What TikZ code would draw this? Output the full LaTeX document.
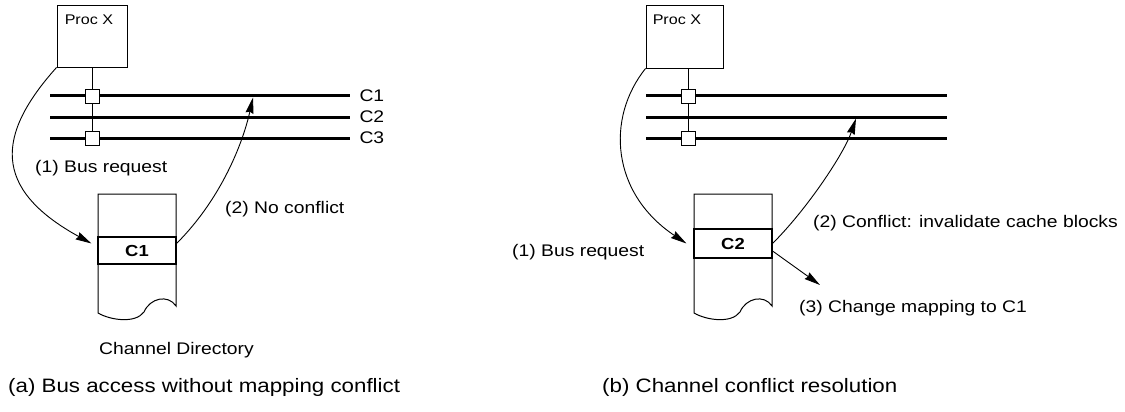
\documentclass[tikz,border=0pt]{standalone}
\usepackage{fontspec}
\setmainfont{Liberation Sans}[FakeStretch=1.15]
\usetikzlibrary{arrows.meta}
\tikzset{
	bus/.style={line width=3pt},
	tap/.style={draw, fill=white, minimum size=14pt, inner sep=0pt, line width=0.9pt},
	procbox/.style={draw, line width=0.9pt, inner sep=0pt},
	dircell/.style={draw, line width=1.1pt, minimum width=78pt, inner sep=0pt, font=\bfseries\fontsize{16}{18}\selectfont},
	req/.style={-{Stealth[length=16pt,width=8pt,inset=1.5pt]}, line width=0.9pt},
	lbl/.style={anchor=west, inner sep=0pt, font=\fontsize{16.8}{19}\selectfont},
	caption/.style={anchor=west, inner sep=0pt, font=\fontsize{19.4}{22}\selectfont},
	proclabel/.style={anchor=north west, inner sep=0pt, xshift=8pt, yshift=-10pt, font=\fontsize{14}{16}\selectfont}
}
\begin{document}
\begin{tikzpicture}[x=1pt, y=-1pt]
	\useasboundingbox (0,0) rectangle (1125,412);

	% (a) no mapping conflict
	\node[procbox, minimum width=70pt, minimum height=62pt, label={[proclabel]north west:Proc X}] at (92,36) (procA) {};
	\draw[bus] (50,96) -- (350,96) node[lbl, xshift=8pt] (busA1) {C1};
	\draw[bus] (50,117) -- (350,117) node[lbl, xshift=8pt] (busA2) {C2};
	\draw[bus] (50,138) -- (350,138) node[lbl, xshift=8pt] (busA3) {C3};
	\node[tap] at (92,96) (tapA1) {};
	\node[tap] at (92,138) (tapA3) {};
	\draw[line width=0.9pt] (procA.south -| tapA1) -- (tapA1.north);
	\draw[line width=0.9pt] (tapA1.south) -- (tapA3.north);
	\coordinate (hitA) at (253,97.5);

	\draw[line width=1pt] (176,306) -- (176,194) -- (98,194) -- (98,313) .. controls (110,320) and (135,324) .. (144,312) .. controls (150,298) and (168,294) .. (176,306) -- cycle;
	\node[dircell, minimum height=27pt] at (137,250.5) (cellA) {C1};

	\draw[req] (procA.south west) .. controls +(-60,67) and +(-100,-55) .. ([shift={(-6,-7)}]cellA.west);
	\draw[req] ([shift={(0,-7)}]cellA.east) .. controls +(45,-45) and +(-10,45) .. (hitA);

	\node[lbl] at (35,168) (reqA) {(1) Bus request};
	\node[lbl] at (225,209) (okA) {(2) No conflict};
	\node[lbl] at (99,350) (dirA) {Channel Directory};
	\node[caption] at (8,387) (capA) {(a) Bus access without mapping conflict};

	% (b) conflict resolution
	\node[procbox, minimum width=77pt, minimum height=63pt, label={[proclabel, xshift=-1pt]north west:Proc X}] at (684.5,36.5) (procB) {};
	\draw[bus] (646,96) -- (947,96);
	\draw[bus] (646,117) -- (947,117);
	\draw[bus] (646,138) -- (947,138);
	\node[tap] at (688,96) (tapB1) {};
	\node[tap] at (688,138) (tapB3) {};
	\draw[line width=0.9pt] (procB.south -| tapB1) -- (tapB1.north);
	\draw[line width=0.9pt] (tapB1.south) -- (tapB3.north);
	\coordinate (hitB) at (856,118.5);
	\coordinate (mapB) at (820,285);

	\draw[line width=1pt] (772,306) -- (772,194) -- (694,194) -- (694,313) .. controls (706,320) and (731,324) .. (740,312) .. controls (746,298) and (764,294) .. (772,306) -- cycle;
	\node[dircell, minimum height=29pt] at (733,243.5) (cellB) {C2};

	\draw[req] (procB.south west) .. controls +(-40,50) and +(-75,-50) .. ([shift={(-7,0)}]cellB.west);
	\draw[req] (cellB.east) .. controls +(35,-35) and +(-12,35) .. (hitB);
	\draw[req] ([shift={(0,7.5)}]cellB.east) -- (mapB);

	\node[lbl] at (512,252) (reqB) {(1) Bus request};
	\node[lbl] at (813,223) (conflictB) {(2) Conflict: invalidate cache blocks};
	\node[lbl] at (799,308) (remapB) {(3) Change mapping to C1};
	\node[caption] at (602,387) (capB) {(b) Channel conflict resolution};
\end{tikzpicture}
\end{document}
